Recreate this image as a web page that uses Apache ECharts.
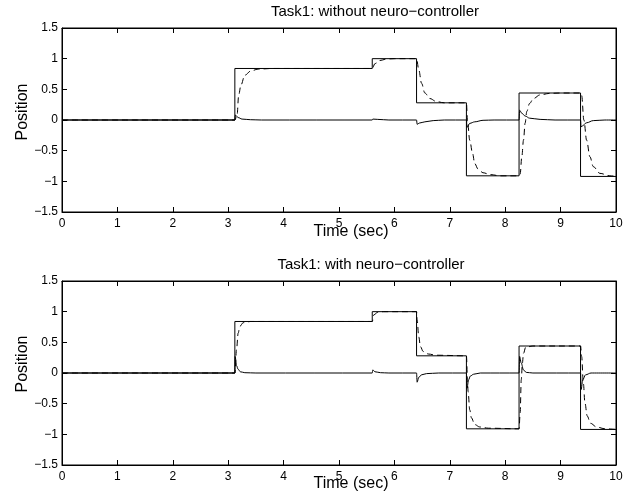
<!DOCTYPE html>
<html>
<head>
<meta charset="utf-8">
<script src="https://cdn.jsdelivr.net/npm/echarts@6/dist/echarts.min.js"></script>
<style>
html,body{margin:0;padding:0;background:#fff;}
#chart{width:641px;height:499px;}
</style>
</head>
<body>
<div id="chart"></div>
<script>
// ---- data ----
const titles = ['Task1: without neuro\u2212controller', 'Task1: with neuro\u2212controller'];
const xLabel = 'Time (sec)';
const yLabel = 'Position';
const xTicks = [0,1,2,3,4,5,6,7,8,9,10];
const yTicks = [-1.5,-1,-0.5,0,0.5,1,1.5];

// reference (step) signal, same in both panels
const refTime  = [0, 3.12, 3.12, 5.6, 5.6, 6.4, 6.4, 7.3, 7.3, 8.25, 8.25, 9.36, 9.36, 10];
const refValue = [0, 0, 0.84, 0.84, 1.0, 1.0, 0.28, 0.28, -0.91, -0.91, 0.44, 0.44, -0.92, -0.92];

// top panel: response without neuro-controller (dashed)
const respATime  = [0, 3.12, 3.16, 3.19, 3.23, 3.30, 3.41, 3.54, 3.8, 5.6, 5.65, 5.74, 5.86, 6.0, 6.4, 6.44, 6.49, 6.55, 6.64, 6.76, 6.9, 7.3, 7.32, 7.36, 7.41, 7.45, 7.51, 7.60, 7.73, 7.91, 8.25, 8.27, 8.30, 8.33, 8.36, 8.39, 8.44, 8.51, 8.63, 8.81, 9.0, 9.36, 9.38, 9.42, 9.47, 9.53, 9.59, 9.71, 9.89, 10];
const respAValue = [0, 0, 0.08, 0.41, 0.57, 0.73, 0.80, 0.83, 0.84, 0.84, 0.92, 0.97, 0.995, 1.0, 1.0, 0.82, 0.60, 0.44, 0.35, 0.30, 0.28, 0.28, -0.02, -0.33, -0.54, -0.71, -0.80, -0.86, -0.89, -0.91, -0.91, -0.88, -0.60, -0.33, -0.05, 0.14, 0.27, 0.35, 0.41, 0.435, 0.44, 0.44, 0.40, 0.0, -0.33, -0.60, -0.76, -0.87, -0.91, -0.92];
// top panel: error-like trace (solid, near zero)
const errATime  = [0, 3.12, 3.13, 3.18, 3.25, 3.4, 3.6, 5.6, 5.61, 5.7, 5.9, 6.4, 6.41, 6.45, 6.55, 6.7, 6.9, 7.3, 7.31, 7.36, 7.45, 7.6, 7.8, 8.25, 8.26, 8.30, 8.36, 8.44, 8.63, 8.9, 9.36, 9.37, 9.47, 9.59, 9.8, 10];
const errAValue = [0, 0, 0.08, 0.04, 0.015, 0.005, 0, 0, 0.015, 0.01, 0, 0, -0.07, -0.05, -0.03, -0.01, 0, 0, -0.12, -0.055, -0.03, -0.005, 0, 0, 0.16, 0.11, 0.065, 0.03, 0.01, 0, 0, -0.11, -0.045, -0.01, 0, 0];

// bottom panel: response with neuro-controller (dashed)
const respBTime  = [0, 3.12, 3.15, 3.18, 3.21, 3.27, 3.4, 5.6, 5.63, 5.7, 5.8, 6.4, 6.41, 6.44, 6.47, 6.52, 6.61, 6.75, 7.3, 7.32, 7.33, 7.36, 7.39, 7.45, 7.54, 7.7, 8.25, 8.27, 8.29, 8.31, 8.33, 8.37, 8.5, 9.36, 9.38, 9.41, 9.44, 9.48, 9.54, 9.65, 9.8, 10];
const respBValue = [0, 0, 0.38, 0.65, 0.76, 0.82, 0.84, 0.84, 0.95, 0.99, 1.0, 1.0, 0.87, 0.59, 0.43, 0.35, 0.31, 0.29, 0.28, -0.11, -0.30, -0.60, -0.73, -0.84, -0.88, -0.90, -0.91, -0.65, -0.11, 0.16, 0.32, 0.42, 0.44, 0.44, 0.27, -0.16, -0.49, -0.70, -0.82, -0.88, -0.91, -0.92];
// bottom panel: error-like trace
const errBTime  = [0, 3.12, 3.125, 3.15, 3.18, 3.22, 3.3, 3.5, 5.6, 5.61, 5.65, 5.75, 5.9, 6.4, 6.41, 6.44, 6.49, 6.58, 6.8, 7.3, 7.31, 7.34, 7.37, 7.43, 7.55, 8.25, 8.26, 8.29, 8.33, 8.38, 8.5, 9.36, 9.37, 9.40, 9.45, 9.55, 10];
const errBValue = [0, 0, 0.27, 0.12, 0.06, 0.02, 0.005, 0, 0, 0.05, 0.02, 0.005, 0, 0, -0.15, -0.07, -0.03, -0.01, 0, 0, -0.25, -0.11, -0.05, -0.02, 0, 0, 0.27, 0.16, 0.05, 0.01, 0, 0, -0.27, -0.11, -0.03, 0, 0];

// ---- chart ----
const zip = (a, b) => a.map((v, i) => [v, b[i]]);
const FONT = '"Liberation Sans", Arial, Helvetica, sans-serif';
const minusFmt = v => {
  const s = String(Math.round(v * 10) / 10);
  return s.replace('-', '\u2212');
};

const grids = [
  {left: 62, top: 28, width: 554, height: 184},
  {left: 62, top: 281, width: 554, height: 184}
];

function xAx(gi, pos, labels) {
  return {
    type: 'value', gridIndex: gi, position: pos, min: 0, max: 10, interval: 1,
    axisLine: {show: true, onZero: false, lineStyle: {color: '#000', width: 1}},
    axisTick: {show: true, inside: true, length: 5, lineStyle: {color: '#000'}},
    axisLabel: {show: labels, color: '#000', fontFamily: FONT, fontSize: 12, margin: 6, formatter: minusFmt},
    splitLine: {show: false}
  };
}
function yAx(gi, pos, labels) {
  return {
    type: 'value', gridIndex: gi, position: pos, min: -1.5, max: 1.5, interval: 0.5,
    axisLine: {show: true, onZero: false, lineStyle: {color: '#000', width: 1}},
    axisTick: {show: true, inside: true, length: 5, lineStyle: {color: '#000'}},
    axisLabel: {show: labels, color: '#000', fontFamily: FONT, fontSize: 12, margin: 4, formatter: minusFmt},
    splitLine: {show: false}
  };
}

function lineSeries(xi, yi, data, dashed, smooth) {
  return {
    type: 'line', xAxisIndex: xi, yAxisIndex: yi, data: data,
    showSymbol: false, symbol: 'none', animation: false,
    smooth: smooth ? 0.35 : false, smoothMonotone: 'x',
    lineStyle: {color: '#000', width: 1, type: dashed ? [6, 4] : 'solid'},
    z: dashed ? 3 : 2
  };
}

const option = {
  animation: false,
  backgroundColor: '#fff',
  grid: grids.map(g => Object.assign({show: true, borderColor: '#000', borderWidth: 1, backgroundColor: 'transparent'}, g)),
  xAxis: [xAx(0, 'bottom', true), xAx(0, 'top', false), xAx(1, 'bottom', true), xAx(1, 'top', false)],
  yAxis: [yAx(0, 'left', true), yAx(0, 'right', false), yAx(1, 'left', true), yAx(1, 'right', false)],
  series: [
    lineSeries(0, 0, zip(refTime, refValue), false, false),
    lineSeries(0, 0, zip(errATime, errAValue), false, true),
    lineSeries(0, 0, zip(respATime, respAValue), true, true),
    lineSeries(2, 2, zip(refTime, refValue), false, false),
    lineSeries(2, 2, zip(errBTime, errBValue), false, true),
    lineSeries(2, 2, zip(respBTime, respBValue), true, true)
  ],
  graphic: [
    {type: 'text', x: 375, y: 12, style: {text: titles[0], font: '15px ' + FONT, fill: '#000', textAlign: 'center', textVerticalAlign: 'middle'}},
    {type: 'text', x: 371, y: 265, style: {text: titles[1], font: '15px ' + FONT, fill: '#000', textAlign: 'center', textVerticalAlign: 'middle'}},
    {type: 'text', x: 351, y: 232, style: {text: xLabel, font: '16px ' + FONT, fill: '#000', textAlign: 'center', textVerticalAlign: 'middle'}},
    {type: 'text', x: 351, y: 484, style: {text: xLabel, font: '16px ' + FONT, fill: '#000', textAlign: 'center', textVerticalAlign: 'middle'}},
    {type: 'text', x: 23, y: 112, rotation: Math.PI / 2, style: {text: yLabel, font: '16px ' + FONT, fill: '#000', textAlign: 'center', textVerticalAlign: 'middle'}},
    {type: 'text', x: 23, y: 364, rotation: Math.PI / 2, style: {text: yLabel, font: '16px ' + FONT, fill: '#000', textAlign: 'center', textVerticalAlign: 'middle'}}
  ]
};

const chart = echarts.init(document.getElementById('chart'), null, {renderer: 'canvas'});
chart.setOption(option);
</script>
</body>
</html>
